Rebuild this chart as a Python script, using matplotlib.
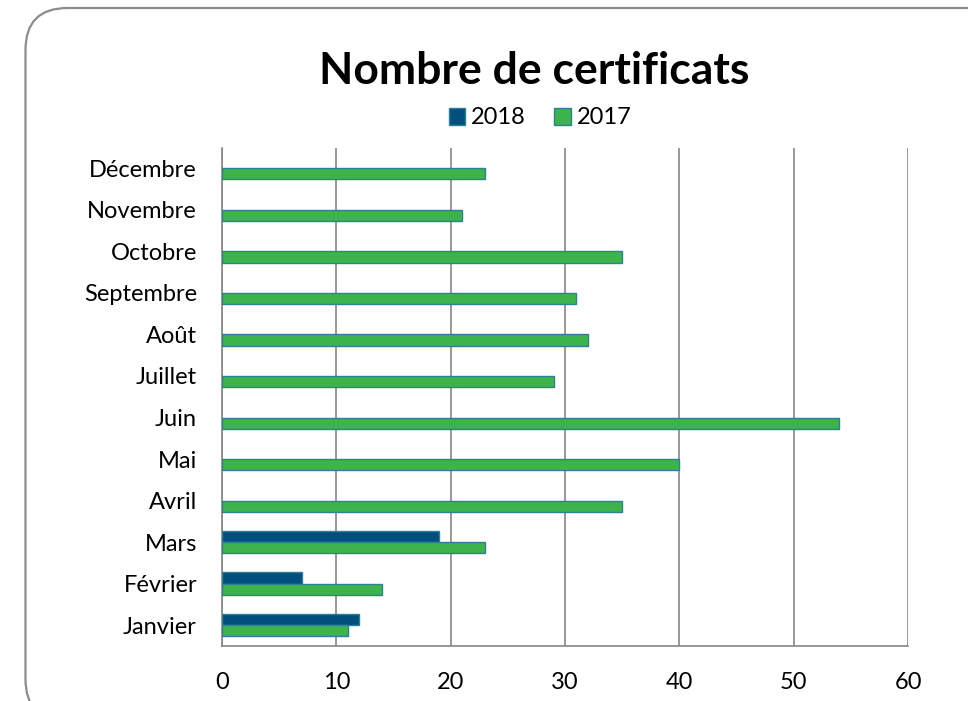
import matplotlib
matplotlib.use("Agg")
import matplotlib.pyplot as plt
from matplotlib.patches import FancyBboxPatch, Patch
import numpy as np

months = ["Janvier", "Février", "Mars", "Avril", "Mai", "Juin", "Juillet",
          "Août", "Septembre", "Octobre", "Novembre", "Décembre"]
v2018 = [12, 7, 19, 0, 0, 0, 0, 0, 0, 0, 0, 0]
v2017 = [11, 14, 23, 35, 40, 54, 29, 32, 31, 35, 21, 23]
xticks = [0, 10, 20, 30, 40, 50, 60]

plt.rcParams['font.family'] = ['Lato', 'DejaVu Sans']

fig = plt.figure(figsize=(9.68, 7.01), dpi=100)
fig.patch.set_facecolor('white')

# rounded frame (in inches)
frame = FancyBboxPatch((0.255, -0.2), 11.0, 6.93 + 0.2,
                       boxstyle="round,pad=0,rounding_size=0.42",
                       transform=fig.dpi_scale_trans, facecolor='none',
                       edgecolor='#8c8c8c', linewidth=1.6, clip_on=False)
fig.patches.append(frame)

ax = fig.add_axes([222/968, 1 - 646/701, (908-222)/968, (646-147.5)/701])
y = np.arange(len(months))
h = 0.27
edge = '#2f7f96'
lw18 = [1.0 if v > 0 else 0 for v in v2018]
ax.barh(y + h/2, v2018, height=h, color='#004f7c', edgecolor=edge, linewidth=lw18, zorder=3)
ax.barh(y - h/2, v2017, height=h, color='#3cb44b', edgecolor=edge, linewidth=1.0, zorder=3)

ax.set_xlim(0, 60)
ax.set_ylim(-0.5, len(months) - 0.5)
ax.set_xticks(xticks)
ax.set_yticks(y)
ax.set_yticklabels(months)
ax.grid(axis='x', color='#868686', linewidth=1.2, zorder=0)
for s in ['top', 'right']:
    ax.spines[s].set_visible(False)
for s in ['left', 'bottom']:
    ax.spines[s].set_color('#868686')
    ax.spines[s].set_linewidth(1.2)
ax.tick_params(axis='y', length=0, pad=18, labelsize=17)
ax.tick_params(axis='x', length=0, pad=19, labelsize=17)

fig.text(534/968, 1 - 71/701, "Nombre de certificats", ha='center', va='center',
         fontsize=32, fontweight='bold')

handles = [Patch(facecolor='#004f7c', edgecolor=edge, label='2018'),
           Patch(facecolor='#3cb44b', edgecolor=edge, label='2017')]
fig.legend(handles=handles, loc='center', bbox_to_anchor=(540/968, 1 - 118/701),
           ncol=2, frameon=False, fontsize=17, handlelength=0.7, handleheight=0.7,
           handletextpad=0.25, columnspacing=1.2)

fig.savefig("out.png", dpi=100)
